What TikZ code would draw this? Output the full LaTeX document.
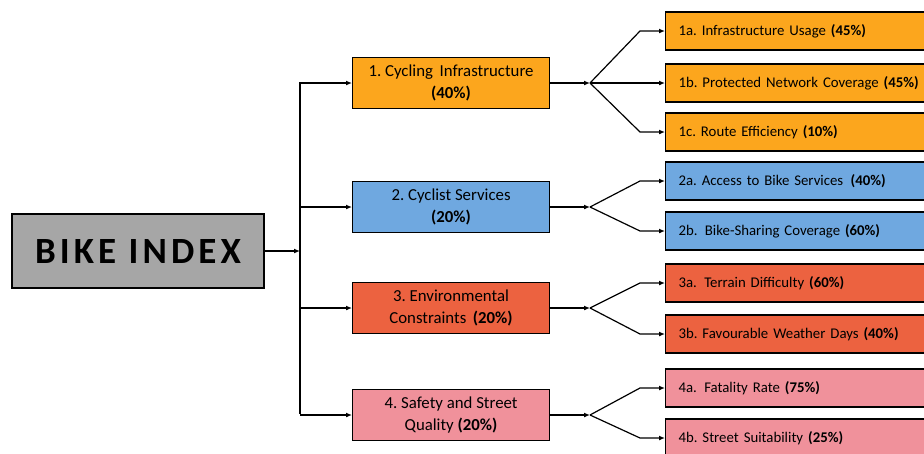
\documentclass[tikz,border=0pt]{standalone}
\usepackage{fontspec}
\setmainfont{Carlito}
\usetikzlibrary{arrows.meta}
\frenchspacing

\definecolor{bikegray}{RGB}{166,166,166}
\definecolor{infraorange}{RGB}{252,166,29}
\definecolor{serviceblue}{RGB}{111,168,224}
\definecolor{envred}{RGB}{236,98,64}
\definecolor{safepink}{RGB}{240,145,155}

\begin{document}
\begin{tikzpicture}[x=1pt, y=-1pt, line width=1.2pt,
    arr/.style={-{Latex[length=6pt,width=5pt]}},
    box/.style={draw=black, line width=1.1pt, anchor=west},
    catbox/.style={box, minimum width=197pt, minimum height=51pt, inner sep=2pt,
        align=center, font=\fontsize{16.8}{22}\selectfont},
    subbox/.style={box, minimum height=38pt, inner xsep=13pt, inner ysep=0pt,
        text width=260pt, align=left, font=\fontsize{14.8}{16}\selectfont}]
    \useasboundingbox (0,0) rectangle (924,453);

    % root
    \node[draw=black, line width=1.1pt, fill=bikegray, minimum width=252pt, minimum height=74pt,
        font=\fontsize{37}{40}\selectfont\bfseries\addfontfeatures{LetterSpace=11}]
        (bike) at (138,251) {BIKE INDEX};
    \coordinate (bus) at (300,251);
    \coordinate (bustop) at (300,82);
    \coordinate (busbot) at (300,414);
    \coordinate (kink) at (640,0);

    % main criteria
    \foreach \i/\y/\col/\txt in {
        1/83/infraorange/{1. Cycling\ \,Infrastructure\\\textbf{(40\%)}},
        2/207/serviceblue/{2. Cyclist Services\\\textbf{(20\%)}},
        3/308/envred/{3. Environmental\\Constraints\ \,\textbf{(20\%)}},
        4/415/safepink/{4. Safety and Street\\Quality \textbf{(20\%)}}} {
        \node[catbox, fill=\col] (c\i) at (352,\y) {\txt};
        \coordinate (fork\i) at (590,\y);
    }

    % sub-indicators
    \foreach \s/\p/\y/\col/\txt in {
        1a/1/31/infraorange/{1a. Infrastructure Usage \textbf{(45\%)}},
        1b/1/83/infraorange/{1b. Protected Network Coverage \textbf{(45\%)}},
        1c/1/132/infraorange/{1c. Route Efficiency \textbf{(10\%)}},
        2a/2/181/serviceblue/{2a. Access to Bike Services\ \,\textbf{(40\%)}},
        2b/2/231/serviceblue/{2b.\ \,Bike-Sharing Coverage \textbf{(60\%)}},
        3a/3/283/envred/{3a.\ \,Terrain Difficulty \textbf{(60\%)}},
        3b/3/334/envred/{3b. Favourable Weather Days \textbf{(40\%)}},
        4a/4/388/safepink/{4a.\ \,Fatality Rate \textbf{(75\%)}},
        4b/4/438/safepink/{4b. Street Suitability \textbf{(25\%)}}} {
        \node[subbox, fill=\col] (s\s) at (665,\y) {\txt};
        \draw[arr] (fork\p) -- (kink |- s\s.west) -- (s\s.west);
    }

    % connectors
    \draw[arr] (bike.east) -- (bus);
    \draw (bustop) -- (busbot);
    \foreach \i in {1,2,3,4} {
        \draw[arr] (bustop |- c\i.west) -- (c\i.west);
        \draw[arr] (c\i.east) -- (fork\i);
    }
\end{tikzpicture}
\end{document}
